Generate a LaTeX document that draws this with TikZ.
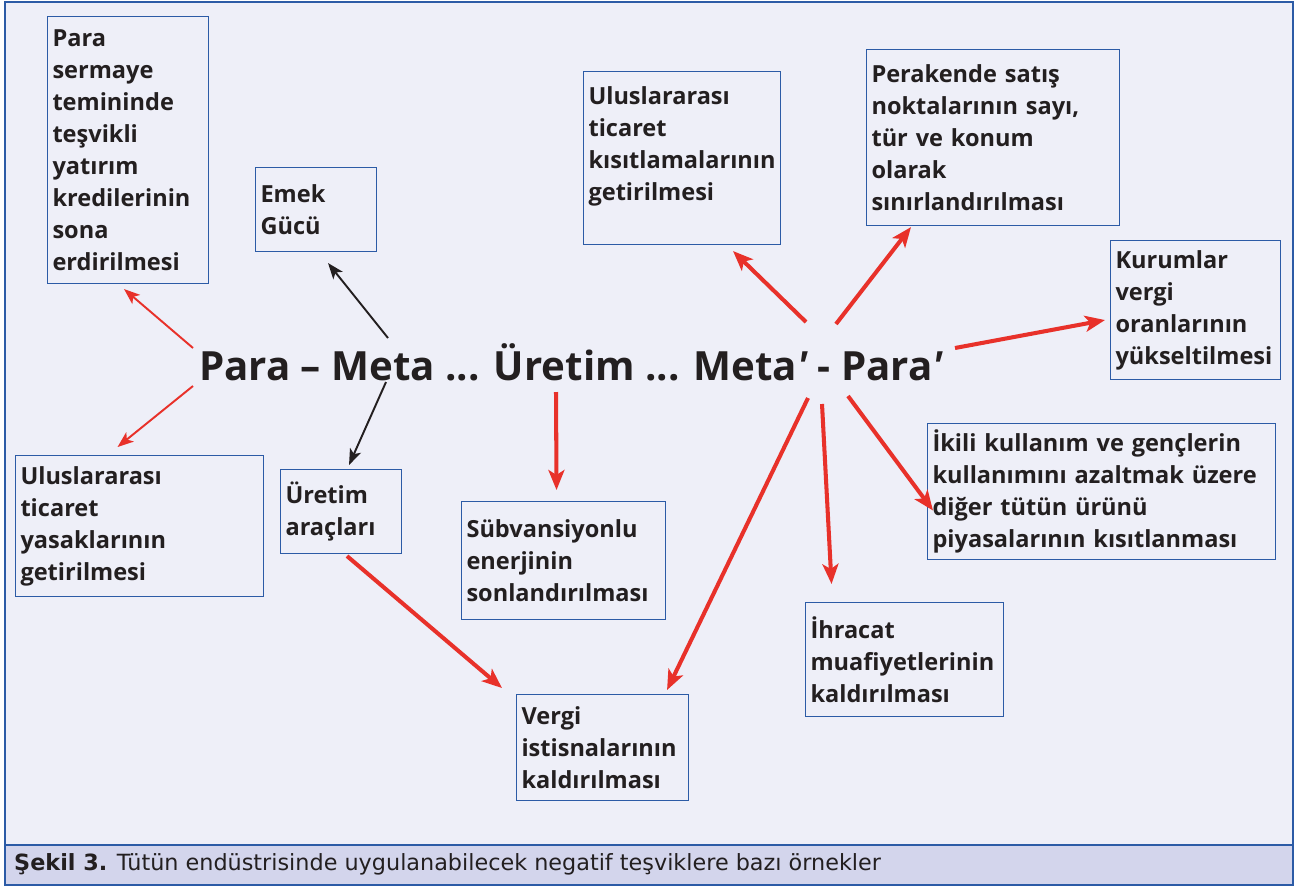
\documentclass[tikz,border=0pt]{standalone}
\usepackage{fontspec}
\setmainfont{Open Sans}[Ligatures={NoCommon}]
\newfontfamily\altfont{DejaVu Sans}
\usetikzlibrary{arrows.meta,calc}
\definecolor{zemin}{HTML}{EEEFF8}
\definecolor{cerceve}{HTML}{2C5BA6}
\definecolor{kirmizi}{HTML}{E8312A}
\definecolor{altzemin}{HTML}{D3D5EC}
\definecolor{yazi}{HTML}{231F20}
\newcommand{\us}{{\itshape ′}}
\begin{document}
\begin{tikzpicture}[x=0.2mm,y=-0.2mm,
  kutu/.style={draw=cerceve,line width=0.6pt,fill=zemin,anchor=north west,align=left,
    inner xsep=1mm,inner ysep=0.5mm,text=yazi,font=\bfseries\fontsize{13.4}{18.2}\selectfont},
  inceok/.style={kirmizi,line width=1.1pt,-{Stealth[length=3.2mm,width=2.4mm,inset=0.8mm]}},
  siyahok/.style={yazi,line width=1.1pt,-{Stealth[length=3.2mm,width=2.4mm,inset=0.8mm]}},
  kalinok/.style={kirmizi,line width=2.3pt,-{Stealth[length=4mm,width=3.2mm,inset=1mm]}}]
\useasboundingbox (0,0) rectangle (1301,890);
\fill[white] (0,0) rectangle (1301,890);
\draw[cerceve,fill=zemin,line width=0.8pt] (5,2) rectangle (1293,845);
\draw[cerceve,fill=altzemin,line width=0.8pt] (5,845) rectangle (1293,885);
\node[anchor=base west,text=yazi,font=\altfont\fontsize{12.7}{14}\selectfont] (alt) at (8,870)
  {\textbf{Şekil 3.} Tütün endüstrisinde uygulanabilecek negatif teşviklere bazı örnekler};
% ana akis
\node[text=yazi,font=\bfseries\fontsize{22.9}{26}\selectfont] (akis) at (571,362)
  {Para – Meta ... Üretim ... Meta\us{} - Para\us};
\node[kutu,text width=30.2mm,minimum height=53.4mm] (pms) at (47,16)
  {Para\\sermaye\\temininde\\teşvikli\\yatırım\\kredilerinin\\sona\\erdirilmesi};
\node[kutu,text width=22.2mm,minimum height=16.8mm] (emek) at (255,167) {Emek\\Gücü};
\node[kutu,text width=37.4mm,minimum height=34.6mm] (uk) at (583,71)
  {Uluslararası\\ticaret\\kısıtlamalarının\\getirilmesi\par\vspace*{4.8mm}};
\node[kutu,text width=48.6mm,minimum height=35.2mm] (per) at (866,49)
  {Perakende satış\\noktalarının sayı,\\tür ve konum\\olarak\\sınırlandırılması};
\node[kutu,text width=32mm,minimum height=27.8mm] (kur) at (1110,240)
  {Kurumlar\\vergi\\oranlarının\\yükseltilmesi};
\node[kutu,text width=67.6mm,minimum height=27.2mm] (iki) at (927,423)
  {İkili kullanım ve gençlerin\\kullanımını azaltmak üzere\\diğer tütün ürünü\\piyasalarının kısıtlanması};
\node[kutu,text width=37.6mm,minimum height=22.8mm] (ihr) at (805,602)
  {İhracat\\muafiyetlerinin\\kaldırılması};
\node[kutu,text width=32.4mm,minimum height=21.2mm] (vergi) at (516,694)
  {Vergi\\istisnalarının\\kaldırılması};
\node[kutu,text width=38.8mm,minimum height=23.6mm] (sub) at (461,501)
  {Sübvansiyonlu\\enerjinin\\sonlandırılması};
\node[kutu,text width=22.2mm,minimum height=16.8mm] (ura) at (280,469) {Üretim\\araçları};
\node[kutu,text width=47.6mm,minimum height=28.2mm] (uty) at (15,455)
  {Uluslararası\\ticaret\\yasaklarının\\getirilmesi};
% ok baslari
\coordinate (t1) at (193,348);
\coordinate (t2) at (193,386);
\coordinate (t3) at (388,338);
\coordinate (t4) at (386,382);
\coordinate (t5) at (556,392);
\coordinate (t6) at (806,322);
\coordinate (t7) at (836,324);
\coordinate (t8) at (955,348);
\coordinate (t9) at (808,398);
\coordinate (t10) at (822,404);
\coordinate (t11) at (848,396);
\draw[inceok] (t1) -- ($(pms.south)+(-4,5)$);
\draw[inceok] (t2) -- ($(uty.north)+(-22,-8)$);
\draw[siyahok] (t3) -- ($(emek.south)+(12,11)$);
\draw[siyahok] (t4) -- ($(ura.north)+(8,-4)$);
\draw[kalinok] (t5) -- ($(sub.north)+(-7,-11)$);
\draw[kalinok] ($(ura.south)+(6,2)$) -- ($(vergi.north west)+(-14,-6)$);
\draw[kalinok] (t6) -- ($(uk.south)+(51,6)$);
\draw[kalinok] (t7) -- ($(per.south west)+(45,1)$);
\draw[kalinok] (t8) -- ($(kur.west)+(-5,10)$);
\draw[kalinok] (t9) -- ($(vergi.north east)+(-22,-4)$);
\draw[kalinok] (t10) -- ($(ihr.north)+(-73,-18)$);
\draw[kalinok] (t11) -- ($(iki.west)+(6,19)$);
\end{tikzpicture}
\end{document}
